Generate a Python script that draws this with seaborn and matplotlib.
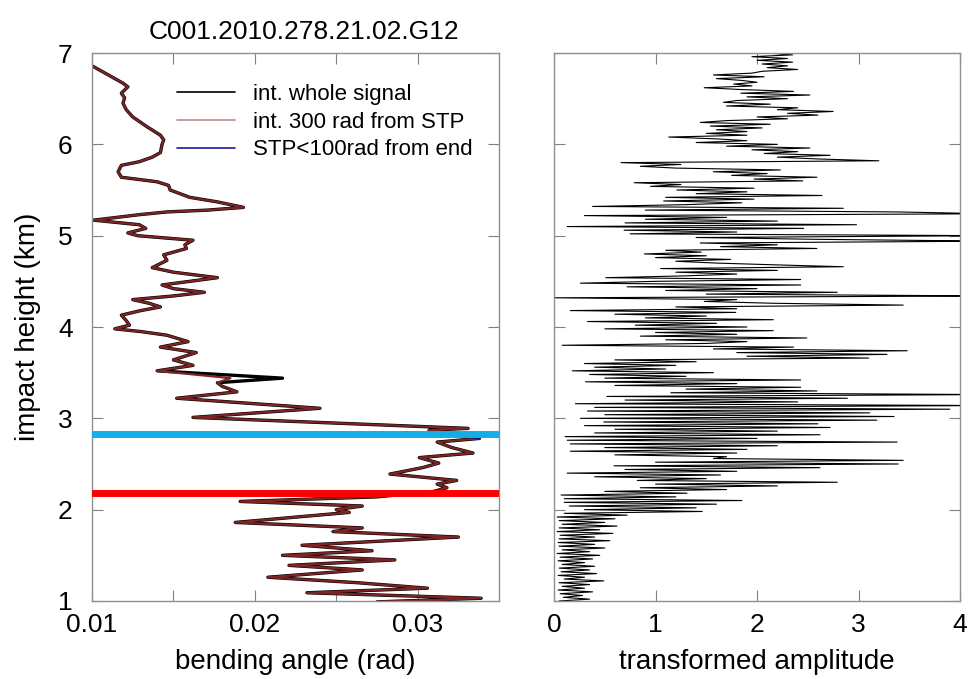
import numpy as np
import pandas as pd
import matplotlib
matplotlib.use("Agg")
import matplotlib.pyplot as plt
import seaborn as sns

# left panel: bending angle profile (impact height km, bending angle rad)
height_km = [6.90, 6.85, 6.76, 6.67, 6.63, 6.56, 6.51, 6.45, 6.38, 6.30,
             6.19, 6.10, 6.05, 6.00, 5.91, 5.86, 5.81, 5.77, 5.70, 5.64,
             5.59, 5.55, 5.50, 5.42, 5.37, 5.31, 5.28, 5.26, 5.23, 5.17,
             5.12, 5.08, 5.03, 5.00, 4.95, 4.90, 4.86, 4.79, 4.73, 4.65,
             4.60, 4.54, 4.50, 4.46, 4.42, 4.38, 4.34, 4.30, 4.26, 4.22,
             4.18, 4.13, 4.07, 4.02, 3.98, 3.95, 3.91, 3.84, 3.78, 3.72,
             3.64, 3.58, 3.52, 3.44, 3.39, 3.35, 3.29, 3.22, 3.11, 3.01,
             2.89, 2.87, 2.82, 2.78, 2.74, 2.68, 2.62, 2.57, 2.51, 2.46,
             2.39, 2.32, 2.28, 2.24, 2.20, 2.14, 2.09, 2.04, 2.00, 1.97,
             1.86, 1.80, 1.76, 1.70, 1.61, 1.55, 1.50, 1.45, 1.39, 1.34,
             1.26, 1.20, 1.14, 1.09, 1.03, 0.99]
angle_stp = [0.0095, 0.0101, 0.0110, 0.0119, 0.0122, 0.0118, 0.0120, 0.0119, 0.0121, 0.0125,
             0.0134, 0.0142, 0.0144, 0.0143, 0.0142, 0.0137, 0.0129, 0.0118, 0.0116, 0.0118,
             0.0140, 0.0147, 0.0148, 0.0160, 0.0177, 0.0193, 0.0171, 0.0146, 0.0129, 0.0101,
             0.0129, 0.0133, 0.0122, 0.0128, 0.0162, 0.0157, 0.0158, 0.0144, 0.0146, 0.0137,
             0.0150, 0.0177, 0.0160, 0.0143, 0.0150, 0.0169, 0.0150, 0.0125, 0.0135, 0.0142,
             0.0130, 0.0118, 0.0121, 0.0123, 0.0114, 0.0130, 0.0146, 0.0159, 0.0142, 0.0164,
             0.0150, 0.0162, 0.0140, 0.0185, 0.0177, 0.0180, 0.0189, 0.0152, 0.0240, 0.0162,
             0.0331, 0.0307, 0.0322, 0.0338, 0.0312, 0.0321, 0.0334, 0.0301, 0.0313, 0.0303,
             0.0283, 0.0324, 0.0312, 0.0318, 0.0310, 0.0275, 0.0191, 0.0266, 0.0250, 0.0258,
             0.0188, 0.0266, 0.0248, 0.0325, 0.0229, 0.0272, 0.0217, 0.0286, 0.0221, 0.0266,
             0.0208, 0.0263, 0.0306, 0.0232, 0.0339, 0.0275]
# whole-signal integration only departs from the STP one near 3.44 km
angle_whole = list(angle_stp)
angle_whole[height_km.index(3.44)] = 0.0217

stp_end_height = [2.82, 2.78]
stp_end_angle = [0.0322, 0.0338]

cyan_level = 2.83
red_level = 2.18

# right panel: transformed amplitude sampled every 0.02 km from 7.00 down to 1.00
amplitude = [
    2.10, 2.35, 1.95, 2.30, 2.00, 2.35, 2.05, 2.30, 2.10, 2.40,
    2.05, 1.95, 1.57, 2.07, 1.60, 1.85, 2.00, 1.77, 1.95, 1.48,
    1.85, 2.36, 1.84, 2.52, 1.90, 2.30, 1.80, 1.67, 2.13, 1.70,
    2.40, 2.20, 2.75, 2.30, 2.60, 2.00, 2.30, 1.70, 1.44, 2.13,
    1.54, 2.05, 1.60, 1.90, 1.50, 1.90, 1.13, 1.60, 1.90, 1.40,
    2.20, 1.70, 2.52, 1.95, 2.40, 2.07, 2.72, 2.20, 2.60, 3.20,
    0.66, 1.25, 0.85, 1.20, 2.23, 1.57, 2.10, 1.75, 2.59, 1.97,
    2.45, 0.79, 1.25, 0.95, 1.97, 1.21, 1.90, 1.40, 2.64, 1.10,
    1.97, 1.08, 1.85, 1.30, 0.38, 2.85, 0.90, 3.38, 4.30, 0.30,
    1.70, 0.90, 2.20, 0.70, 2.98, 0.13, 2.46, 0.69, 1.80, 0.75,
    4.30, 1.40, 2.60, 4.30, 1.44, 2.20, 1.64, 2.59, 1.10, 1.45,
    0.89, 1.50, 1.00, 1.74, 1.20, 1.60, 2.20, 2.85, 1.05, 2.20,
    1.20, 1.80, 1.30, 0.51, 2.43, 1.00, 0.26, 2.43, 0.72, 2.00,
    1.10, 2.79, 1.50, 4.30, 0.00, 1.80, 1.48, 2.16, 3.44, 1.20,
    1.80, 0.16, 1.79, 0.60, 1.50, 0.90, 2.16, 0.33, 1.60, 0.80,
    1.90, 0.50, 2.16, 1.00, 1.80, 0.85, 2.49, 1.10, 1.90, 1.50,
    0.08, 2.36, 1.57, 3.48, 1.80, 3.28, 1.90, 3.10, 0.60, 1.40,
    0.30, 1.20, 0.40, 1.10, 0.18, 1.57, 0.35, 1.30, 0.50, 2.43,
    0.31, 1.80, 0.60, 2.43, 1.30, 2.59, 1.15, 4.30, 0.52, 2.89,
    0.70, 2.40, 0.21, 4.30, 0.40, 3.90, 0.33, 3.11, 0.50, 3.35,
    0.26, 3.18, 0.49, 2.60, 0.30, 2.72, 0.60, 2.20, 0.40, 2.62,
    0.11, 2.00, 0.13, 3.38, 0.16, 2.20, 0.50, 1.90, 0.16, 1.80,
    0.60, 1.70, 1.57, 3.44, 1.00, 3.39, 0.59, 2.62, 0.70, 1.80,
    0.13, 1.64, 0.40, 1.50, 0.82, 2.79, 1.00, 2.20, 0.85, 1.70,
    0.50, 1.31, 0.07, 1.20, 0.10, 1.85, 0.10, 1.60, 0.15, 1.40,
    0.30, 1.46, 0.10, 0.72, 0.03, 0.60, 0.05, 0.50, 0.08, 0.62,
    0.05, 0.45, 0.03, 0.58, 0.06, 0.40, 0.05, 0.55, 0.04, 0.40,
    0.05, 0.50, 0.08, 0.35, 0.03, 0.45, 0.06, 0.38, 0.04, 0.30,
    0.08, 0.40, 0.05, 0.35, 0.07, 0.42, 0.04, 0.30, 0.10, 0.49,
    0.05, 0.35, 0.08, 0.30, 0.04, 0.38, 0.06, 0.28, 0.09, 0.35,
    0.05]
amp_height = np.linspace(7.0, 1.0, len(amplitude))

sns.set_style("ticks")
plt.rcParams["font.family"] = ["Liberation Sans", "DejaVu Sans"]
plt.rcParams["text.color"] = "black"
plt.rcParams["axes.labelcolor"] = "black"
plt.rcParams["xtick.labelcolor"] = "black"
plt.rcParams["ytick.labelcolor"] = "black"

fig = plt.figure(figsize=(9.72, 6.79), dpi=100)
ax1 = fig.add_axes([0.0947, 0.1149, 0.4187, 0.807])
ax2 = fig.add_axes([0.570, 0.1149, 0.4177, 0.807])

sns.lineplot(x=angle_whole, y=height_km, sort=False, estimator=None,
             color="black", lw=2.4, ax=ax1, label="int. whole signal")
sns.lineplot(x=angle_stp, y=height_km, sort=False, estimator=None,
             color="#7a2424", lw=1.6, ax=ax1, label="int. 300 rad from STP")
sns.lineplot(x=stp_end_angle, y=stp_end_height, sort=False, estimator=None,
             color="#1a1aa0", lw=1.6, ax=ax1, label="STP<100rad from end")
ax1.axhline(cyan_level, color="#14aee6", lw=5, zorder=5)
ax1.axhline(red_level, color="#ff0000", lw=5, zorder=5)

leg = ax1.legend(loc="upper left", bbox_to_anchor=(0.16, 0.98), frameon=False,
                 fontsize=16, handlelength=2.6, labelspacing=0.3, handletextpad=0.8)
for ln in leg.get_lines():
    ln.set_linewidth(1.2)
leg.get_lines()[1].set_color("#c58a8a")
for t in leg.get_texts():
    t.set_color("black")

ax1.set_xlim(0.01, 0.035)
ax1.set_ylim(1, 7)
ax1.set_xticks([0.01, 0.02, 0.03])
ax1.set_xticks([0.015, 0.025], minor=True)
ax1.set_xticklabels(["0.01", "0.02", "0.03"])
ax1.set_yticks(range(1, 8))
ax1.set_xlabel("bending angle (rad)", fontsize=20, labelpad=8)
ax1.set_ylabel("impact height (km)", fontsize=20, labelpad=12)
ax1.set_title("C001.2010.278.21.02.G12", fontsize=19, pad=10, x=0.52)

sns.lineplot(x=amplitude, y=amp_height, sort=False, estimator=None,
             color="black", lw=0.8, ax=ax2)
ax2.set_xlim(0, 4)
ax2.set_ylim(1, 7)
ax2.set_xticks(range(0, 5))
ax2.set_yticks(range(1, 8))
ax2.set_yticklabels([])
ax2.set_xlabel("transformed amplitude", fontsize=20, labelpad=8)

for ax in (ax1, ax2):
    ax.tick_params(which="both", direction="in", top=True, right=True,
                   length=8, width=0.8, color="#808080", labelsize=19)
    ax.tick_params(axis="x", pad=9)
    ax.tick_params(axis="y", pad=14)
    for sp in ax.spines.values():
        sp.set_color("#909090")
        sp.set_linewidth(1.0)

fig.savefig("out.png", dpi=100)
